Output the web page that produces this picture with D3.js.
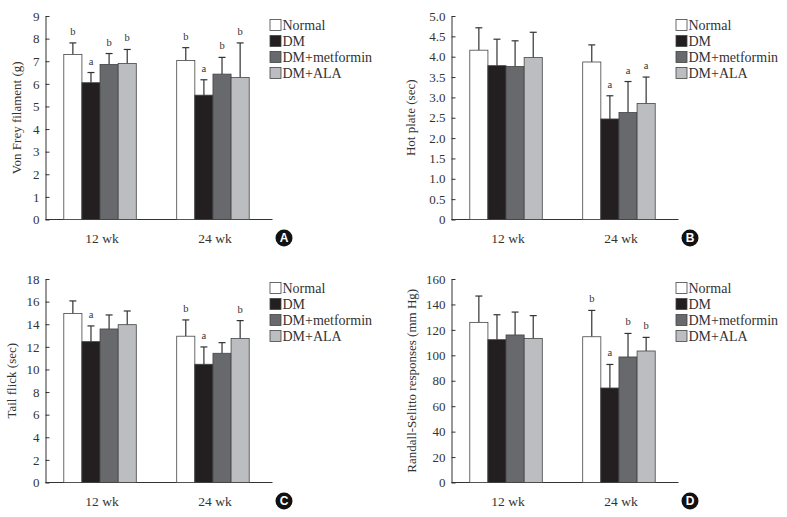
<!DOCTYPE html>
<html>
<head>
<meta charset="utf-8">
<script src="https://cdn.jsdelivr.net/npm/d3@7"></script>
<style>
  body { margin: 0; background: #fff; }
  svg { display: block; }
  svg text { font-family: "Liberation Serif", "DejaVu Serif", serif; }
</style>
</head>
<body>
<svg id="chart" width="787" height="517"></svg>
<script>
// four bar panels, mean + upper SD, letters = significance marks

const groups = ['12 wk', '24 wk'];
const series = ['Normal', 'DM', 'DM+metformin', 'DM+ALA'];
const seriesColors = ['#ffffff', '#231f20', '#68696c', '#bcbdc0'];

// panel A - Von Frey
const vonFreyMean = [[7.3, 6.05, 6.86, 6.9], [7.03, 5.5, 6.43, 6.28]];
const vonFreySd = [[0.51, 0.45, 0.48, 0.62], [0.57, 0.68, 0.74, 1.53]];
const vonFreyMarks = [['b', 'a', 'b', 'b'], ['b', 'a', 'b', 'b']];
const vonFreyTicks = [0, 1, 2, 3, 4, 5, 6, 7, 8, 9];

// panel B - hot plate
const hotPlateMean = [[4.16, 3.78, 3.76, 3.98], [3.87, 2.47, 2.63, 2.85]];
const hotPlateSd = [[0.55, 0.65, 0.63, 0.62], [0.42, 0.57, 0.76, 0.65]];
const hotPlateMarks = [['', '', '', ''], ['', 'a', 'a', 'a']];
const hotPlateTicks = [0, 0.5, 1, 1.5, 2, 2.5, 3, 3.5, 4, 4.5, 5];

// panel C - tail flick
const tailFlickMean = [[14.94, 12.46, 13.58, 13.96], [12.94, 10.46, 11.43, 12.73]];
const tailFlickSd = [[1.12, 1.39, 1.24, 1.21], [1.44, 1.53, 0.94, 1.59]];
const tailFlickMarks = [['', 'a', '', ''], ['b', 'a', '', 'b']];
const tailFlickTicks = [0, 2, 4, 6, 8, 10, 12, 14, 16, 18];

// panel D - Randall-Selitto
const randallMean = [[125.9, 112.3, 116, 113.3], [114.6, 74.3, 98.7, 103.4]];
const randallSd = [[20.7, 19.6, 18, 17.9], [20.7, 18.5, 18.5, 10.7]];
const randallMarks = [['', '', '', ''], ['b', 'a', 'b', 'b']];
const randallTicks = [0, 20, 40, 60, 80, 100, 120, 140, 160];

const panels = [
    { id: 'A', title: 'Von Frey filament (g)', mean: vonFreyMean, sd: vonFreySd, marks: vonFreyMarks, ticks: vonFreyTicks, fmt: d3.format('d'),
      x0: 45.5, yTop: 16, yBot: 219.5, titleDx: -29 },
    { id: 'B', title: 'Hot plate (sec)', mean: hotPlateMean, sd: hotPlateSd, marks: hotPlateMarks, ticks: hotPlateTicks, fmt: d => d === 0 ? '0' : d3.format('.1f')(d),
      x0: 451.5, yTop: 16, yBot: 219.5, titleDx: -41 },
    { id: 'C', title: 'Tail flick (sec)', mean: tailFlickMean, sd: tailFlickSd, marks: tailFlickMarks, ticks: tailFlickTicks, fmt: d3.format('d'),
      x0: 45.5, yTop: 279, yBot: 482.5, titleDx: -34 },
    { id: 'D', title: 'Randall-Selitto responses (mm Hg)', mean: randallMean, sd: randallSd, marks: randallMarks, ticks: randallTicks, fmt: d3.format('d'),
      x0: 451.5, yTop: 279, yBot: 482.5, titleDx: -40 }
];

const plotW = 227;
const ink = '#333';
const svg = d3.select('#chart');

panels.forEach(p => {
    const g = svg.append('g').attr('transform', `translate(${p.x0},0)`);

    const x = d3.scaleBand().domain(groups).range([0, 222]).paddingInner(0.358).paddingOuter(0.162);
    const xs = d3.scaleBand().domain(series).range([0, x.bandwidth()]);
    const y = d3.scaleLinear().domain([0, d3.max(p.ticks)]).range([p.yBot, p.yTop]);

    // y axis, ticks pointing in
    const yAxis = g.append('g')
        .call(d3.axisLeft(y).tickValues(p.ticks).tickFormat(p.fmt).tickSizeInner(-4).tickSizeOuter(0).tickPadding(6))
        .attr('font-family', null)
        .attr('font-size', null);
    yAxis.select('.domain').attr('stroke', ink);
    yAxis.selectAll('.tick line').attr('stroke', ink);
    yAxis.selectAll('text').attr('fill', ink).style('font-size', '13px');

    // x axis line + labels
    g.append('line').attr('x1', 0).attr('x2', plotW).attr('y1', p.yBot).attr('y2', p.yBot).attr('stroke', ink);
    g.selectAll('.xlab').data(groups).enter().append('text')
        .attr('x', d => x(d) + x.bandwidth() / 2 + 2)
        .attr('y', p.yBot + 23)
        .attr('text-anchor', 'middle')
        .attr('fill', ink)
        .style('font-size', '13.5px')
        .text(d => d);

    g.append('text')
        .attr('transform', `translate(${p.titleDx},${(p.yTop + p.yBot) / 2}) rotate(-90)`)
        .attr('text-anchor', 'middle')
        .attr('dy', '0.35em')
        .attr('fill', ink)
        .style('font-size', '13px')
        .text(p.title);

    // bars
    const rows = [];
    groups.forEach((gr, gi) => series.forEach((s, si) => {
        rows.push({ group: gr, s, si, mean: p.mean[gi][si], sd: p.sd[gi][si], mark: p.marks[gi][si] });
    }));

    const bar = g.selectAll('.bar').data(rows).enter().append('g')
        .attr('transform', d => `translate(${x(d.group) + xs(d.s)},0)`);

    bar.append('line')
        .attr('x1', xs.bandwidth() / 2).attr('x2', xs.bandwidth() / 2)
        .attr('y1', d => y(d.mean)).attr('y2', d => y(d.mean + d.sd))
        .attr('stroke', ink).attr('stroke-width', 1.2);
    bar.append('line')
        .attr('x1', xs.bandwidth() / 2 - 3.5).attr('x2', xs.bandwidth() / 2 + 3.5)
        .attr('y1', d => y(d.mean + d.sd)).attr('y2', d => y(d.mean + d.sd))
        .attr('stroke', ink).attr('stroke-width', 1.2);

    bar.append('rect')
        .attr('x', 0)
        .attr('width', xs.bandwidth())
        .attr('y', d => y(d.mean))
        .attr('height', d => p.yBot - y(d.mean))
        .attr('fill', d => seriesColors[d.si])
        .attr('stroke', '#444')
        .attr('stroke-width', 0.8);

    bar.append('text')
        .attr('x', xs.bandwidth() / 2)
        .attr('y', d => y(d.mean + d.sd) - 8)
        .attr('text-anchor', 'middle')
        .attr('fill', ink)
        .style('font-size', '10.5px')
        .text(d => d.mark);

    // legend
    const leg = g.append('g').attr('transform', `translate(224,${p.yTop + 9})`);
    const item = leg.selectAll('g').data(series).enter().append('g')
        .attr('transform', (d, i) => `translate(0,${i * 16})`);
    item.append('rect')
        .attr('x', 0.5).attr('y', -5.5).attr('width', 11).attr('height', 11)
        .attr('fill', (d, i) => seriesColors[i])
        .attr('stroke', '#444').attr('stroke-width', 0.8);
    item.append('text')
        .attr('x', 13).attr('dy', '0.35em')
        .attr('fill', ink)
        .style('font-size', '14px')
        .text(d => d);

    // panel badge
    const badge = g.append('g').attr('transform', `translate(238.5,${p.yBot + 18.5})`);
    badge.append('circle').attr('r', 8.5).attr('fill', '#111');
    badge.append('text')
        .attr('text-anchor', 'middle').attr('dy', '0.36em')
        .attr('fill', '#fff')
        .style('font-family', '"Liberation Sans", Arial, sans-serif')
        .style('font-weight', 'bold')
        .style('font-size', '12px')
        .text(p.id);
});
</script>
</body>
</html>
